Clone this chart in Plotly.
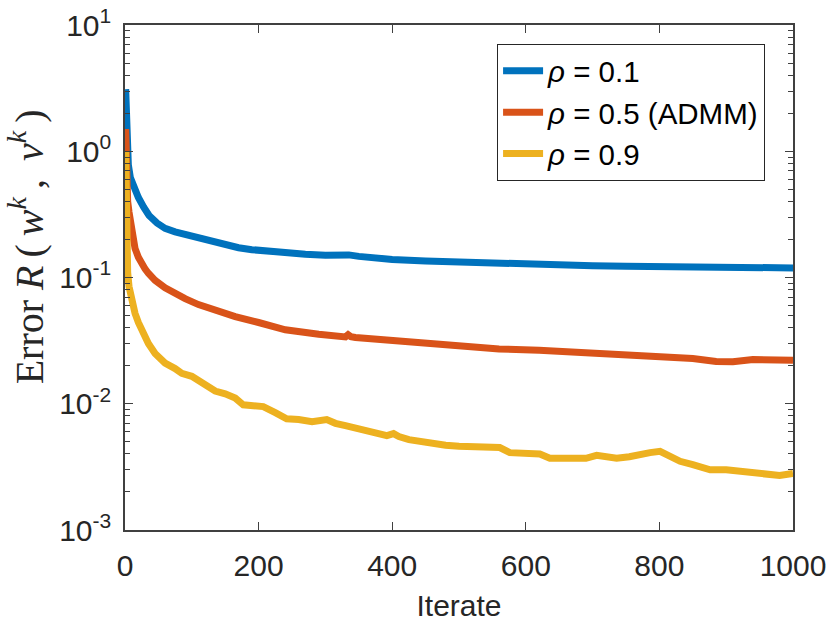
import plotly.graph_objects as go

# ---------------- data ----------------
iter_a = [1, 2, 3, 5, 8, 12, 16, 20, 28, 36, 48, 60, 75, 90, 110, 125, 140, 155, 170, 190,
          210, 240, 270, 300, 320, 335, 350, 380, 400, 450, 500, 550, 575, 590, 610, 650,
          700, 750, 800, 850, 900, 950, 1000]
err_a = [3.1, 1.55, 1.05, 0.78, 0.62, 0.53, 0.47, 0.43, 0.36, 0.31, 0.27, 0.245, 0.23, 0.22,
         0.205, 0.195, 0.185, 0.177, 0.172, 0.166, 0.162, 0.157, 0.153, 0.150, 0.152, 0.151,
         0.147, 0.141, 0.139, 0.135, 0.132, 0.131, 0.131, 0.128, 0.126, 0.125, 0.124, 0.123,
         0.122, 0.121, 0.120, 0.119, 0.119]

iter_b = [1, 2, 3, 4, 6, 8, 11, 15, 20, 25, 30, 35, 45, 60, 75, 90, 110, 135, 165, 200, 240,
          290, 320, 330, 334, 338, 345, 390, 440, 500, 560, 620, 680, 730, 810, 850, 885, 910,
          940, 970, 1000]
err_b = [1.5, 0.75, 0.5, 0.4, 0.33, 0.28, 0.22, 0.17, 0.145, 0.127, 0.117, 0.108, 0.095,
         0.083, 0.074, 0.068, 0.061, 0.055, 0.049, 0.044, 0.0385, 0.0355, 0.034, 0.0338,
         0.0352, 0.034, 0.0335, 0.032, 0.030, 0.0285, 0.0272, 0.0265, 0.0256, 0.0242, 0.0238,
         0.0228, 0.0216, 0.0215, 0.0224, 0.022, 0.0221]

iter_c = [1, 2, 3, 4, 6, 9, 12, 15, 20, 25, 30, 35, 45, 60, 75, 85, 100, 110, 125, 135, 150,
          165, 177, 190, 207, 225, 242, 260, 280, 302, 315, 330, 342, 360, 380, 392, 402, 410,
          425, 442, 460, 480, 500, 516, 540, 561, 576, 600, 621, 636, 656, 676, 690, 706, 720,
          736, 755, 771, 786, 801, 815, 831, 850, 876, 900, 921, 940, 961, 980, 1000]
err_c = [1.0, 0.35, 0.15, 0.11, 0.085, 0.068, 0.058, 0.052, 0.044, 0.038, 0.033, 0.030,
         0.025, 0.021, 0.019, 0.0174, 0.0165, 0.0154, 0.0138, 0.0126, 0.0120, 0.0111, 0.0098,
         0.0096, 0.0095, 0.0085, 0.0076, 0.0075, 0.0072, 0.0075, 0.0070, 0.0067, 0.0065,
         0.0061, 0.0058, 0.0056, 0.0058, 0.0055, 0.0052, 0.0050, 0.0049, 0.0047, 0.0046,
         0.0046, 0.0045, 0.0045, 0.0041, 0.0041, 0.0040, 0.0037, 0.0037, 0.0036, 0.0037,
         0.0039, 0.0038, 0.0037, 0.0038, 0.0040, 0.0041, 0.0042, 0.0039, 0.0035, 0.0033,
         0.0030, 0.0030, 0.0029, 0.0028, 0.0027, 0.0027, 0.0028]

series_names = ["<i>ρ</i> = 0.1", "<i>ρ</i> = 0.5 (ADMM)", "<i>ρ</i> = 0.9"]
series_colors = ["#0072BD", "#D95319", "#EDB120"]

x_ticks = [0, 200, 400, 600, 800, 1000]
y_ticks = [1e-3, 1e-2, 1e-1, 1e0, 1e1]
y_ticktext = ["10<sup>-3</sup>", "10<sup>-2</sup>", "10<sup>-1</sup>", "10<sup>0</sup>", "10<sup>1</sup>"]
y_minor = [k * 10.0 ** e for e in range(-3, 1) for k in range(2, 10)]

# ---------------- figure ----------------
fig = go.Figure()
for i, (xs, ys) in enumerate([(iter_a, err_a), (iter_b, err_b), (iter_c, err_c)]):
    fig.add_trace(go.Scatter(
        x=xs, y=ys, mode="lines", name=series_names[i],
        line=dict(color=series_colors[i], width=7),
        legendgroup=str(i),
    ))

axis_color = "#404040"
font_fam = "Liberation Sans, Arial, Helvetica, sans-serif"
ts = "\u2009"

fig.update_layout(
    width=830, height=632,
    margin=dict(l=125, r=37, t=25, b=102, autoexpand=False),
    paper_bgcolor="white", plot_bgcolor="white",
    font=dict(family=font_fam, size=30, color="#262626"),
    showlegend=True,
    legend=dict(
        x=0.557, y=0.962, xanchor="left", yanchor="top",
        bordercolor="#262626", borderwidth=1, bgcolor="white",
        font=dict(size=29.5, color="#000000", family=font_fam),
        traceorder="grouped", tracegroupgap=0,
        itemwidth=40,
    ),
    annotations=[dict(
        text=("Error " + "<i>R</i>" + ts + "(" + ts + "<i>w</i><sup><i>k</i></sup>" + ts + ","
              + ts + " <i>v</i><sup><i>k</i></sup>" + ts + ")"),
        xref="paper", yref="paper", x=-0.148, y=0.56,
        xanchor="center", yanchor="middle", textangle=-90, showarrow=False,
        font=dict(family="Liberation Serif, Times New Roman, serif", size=40, color="#262626"),
    )],
)

fig.update_xaxes(
    range=[0, 1000], tickvals=x_ticks, ticks="inside", ticklen=8, tickwidth=1,
    tickcolor=axis_color, showline=True, linecolor=axis_color, linewidth=1.5,
    mirror="ticks", showgrid=False, zeroline=False, automargin=False,
    ticklabelstandoff=8,
    title=dict(text="Iterate", font=dict(size=30, family=font_fam, color="#262626"), standoff=14),
)
fig.update_yaxes(
    type="log", range=[-3, 1], tickmode="array", tickvals=y_ticks, ticktext=y_ticktext,
    ticks="inside", ticklen=8, tickwidth=1, tickcolor=axis_color,
    showline=True, linecolor=axis_color, linewidth=1.5, mirror="ticks",
    showgrid=False, zeroline=False, ticklabelstandoff=6, automargin=False,
    minor=dict(tickmode="array", tickvals=y_minor, ticks="inside", ticklen=5,
               tickcolor=axis_color, showgrid=False),
)

fig.write_html("out.html")
